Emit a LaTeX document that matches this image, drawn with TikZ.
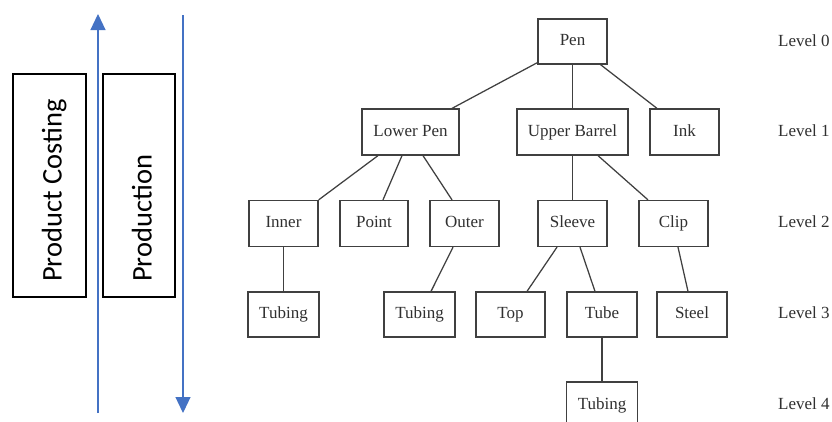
\documentclass[tikz,border=0pt]{standalone}
\usepackage{fontspec}
\setmainfont{Liberation Serif}
\newfontfamily\calib{Carlito}
\usetikzlibrary{arrows.meta}
\definecolor{linec}{HTML}{404040}
\definecolor{textc}{HTML}{303030}
\definecolor{arrowblue}{HTML}{4472C4}
\begin{document}
\begin{tikzpicture}[x=1pt,y=-1pt,
  part/.style={draw=linec,line width=1.25pt,rectangle,minimum height=46pt,inner sep=0pt,
    text height=11.5pt,text depth=3.5pt,
    text=textc,font=\fontsize{17}{20}\selectfont},
  lvl/.style={anchor=west,inner sep=0pt,text height=11.5pt,text depth=3.5pt,text=textc,font=\fontsize{17}{20}\selectfont},
  conn/.style={draw=linec,line width=1.25pt},
  sidebox/.style={draw=black,line width=1.2pt,rectangle,inner sep=0pt},
  sidetext/.style={rotate=90,anchor=base west,inner sep=0pt,text=black,font=\calib\fontsize{28.5}{32}\selectfont},
  flow/.style={draw=arrowblue,line width=1.2pt,-{Triangle[width=15pt,length=16pt]}}]
\useasboundingbox (0,0) rectangle (832,421);
\clip (0,0) rectangle (832,421);
\fill[white] (0,0) rectangle (832,421);

% left side
\node[sidebox,minimum width=73pt,minimum height=223pt] (pcbox) at (49.5,185.5) {};
\node[sidebox,minimum width=72pt,minimum height=223pt] (prbox) at (139,185.5) {};
\node[sidetext] (pct) at (61.5,282) {Product Costing};
\node[sidetext] (prt) at (151.5,282) {Production};
\coordinate (upS) at (98,413);
\coordinate (upE) at (98,14);
\coordinate (dnS) at (183,15);
\coordinate (dnE) at (183,413);
\draw[flow] (upS) -- (upE);
\draw[flow] (dnS) -- (dnE);

% tree nodes
\node[part,minimum width=69pt,minimum height=45pt] (pen) at (572.5,41.5) {Pen};
\node[part,minimum width=97pt] (lp) at (410.5,132) {Lower Pen};
\node[part,minimum width=111pt] (ub) at (572.5,132) {Upper Barrel};
\node[part,minimum width=69pt] (ink) at (684.5,132) {Ink};
\node[part,minimum width=69pt] (inner) at (283.5,223.5) {Inner};
\node[part,minimum width=68pt] (point) at (374,223.5) {Point};
\node[part,minimum width=69pt] (outer) at (464.5,223.5) {Outer};
\node[part,minimum width=69pt] (sleeve) at (572.5,223.5) {Sleeve};
\node[part,minimum width=69pt] (clip) at (673.5,223.5) {Clip};
\node[part,minimum width=71pt,minimum height=45pt] (tub1) at (283.5,314.5) {Tubing};
\node[part,minimum width=71pt,minimum height=45pt] (tub2) at (419.5,314.5) {Tubing};
\node[part,minimum width=69pt,minimum height=45pt] (top) at (510.5,314.5) {Top};
\node[part,minimum width=70pt,minimum height=45pt] (tube) at (602,314.5) {Tube};
\node[part,minimum width=70pt,minimum height=45pt] (steel) at (692,314.5) {Steel};
\node[part,minimum width=71pt] (tub3) at (602,405) {Tubing};

% connectors
\draw[conn] ([yshift=2pt]pen.south west) -- ([xshift=41.5pt]lp.north);
\draw[conn] (pen.south) -- (ub.north);
\draw[conn] ([xshift=28pt]pen.south) -- ([xshift=-27.5pt]ink.north);
\draw[conn] ([xshift=-32.5pt]lp.south) -- (inner.north east);
\draw[conn] ([xshift=-8.5pt]lp.south) -- ([xshift=9pt]point.north);
\draw[conn] ([xshift=12.5pt]lp.south) -- ([xshift=-12.5pt]outer.north);
\draw[conn] (ub.south) -- (sleeve.north);
\draw[conn] ([xshift=25.5pt]ub.south) -- ([xshift=-25.5pt]clip.north);
\draw[conn] (inner.south) -- (tub1.north);
\draw[conn] ([xshift=-11.5pt]outer.south) -- ([xshift=11.5pt]tub2.north);
\draw[conn] ([xshift=-15.5pt]sleeve.south) -- ([xshift=16.5pt]top.north);
\draw[conn] ([xshift=7.5pt]sleeve.south) -- ([xshift=-7pt]tube.north);
\draw[conn] ([xshift=4.5pt]clip.south) -- ([xshift=-4pt]steel.north);
\draw[conn] (tube.south) -- (tub3.north);

% level labels
\node[lvl] (l0) at (778,42) {Level 0};
\node[lvl] (l1) at (778,132) {Level 1};
\node[lvl] (l2) at (778,223) {Level 2};
\node[lvl] (l3) at (778,314) {Level 3};
\node[lvl] (l4) at (778,405) {Level 4};
\end{tikzpicture}
\end{document}
